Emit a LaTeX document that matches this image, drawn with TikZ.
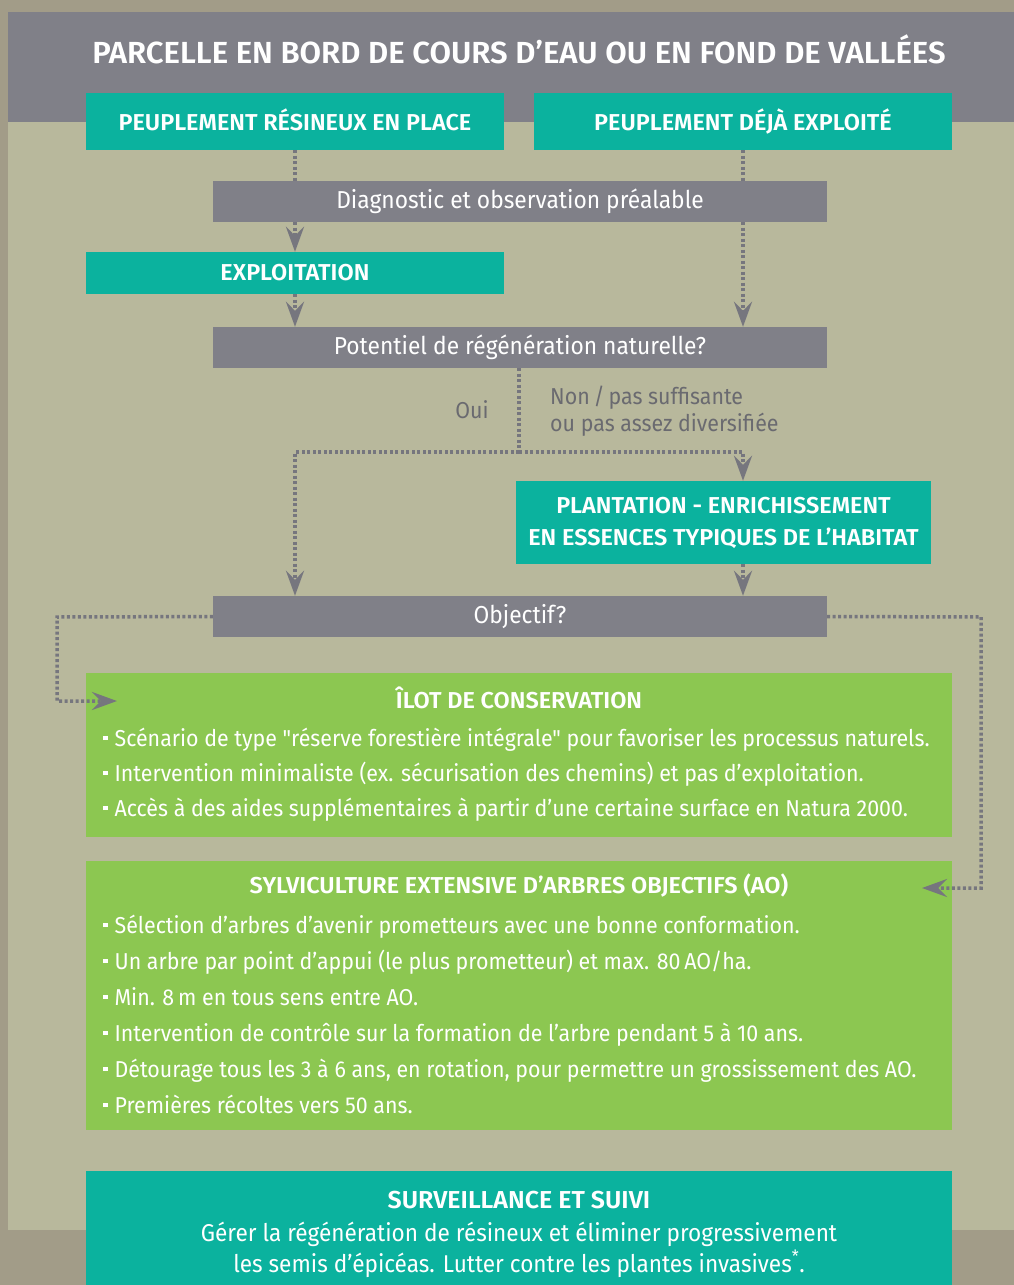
\documentclass[tikz,border=0pt]{standalone}
\usepackage{fontspec}
\setmainfont{Fira Sans}[FakeStretch=0.93, Ligatures=TeXOff]
\newfontfamily\hdfont{Fira Sans SemiBold}[FakeStretch=1.02]
\usetikzlibrary{arrows.meta}
\definecolor{outerbg}{HTML}{A29C88}
\definecolor{panel}{HTML}{B8B89C}
\definecolor{hdr}{HTML}{808088}
\definecolor{tealc}{HTML}{0BB29E}
\definecolor{leaf}{HTML}{8CC751}
\definecolor{conn}{HTML}{76767E}
\definecolor{lbl}{HTML}{6A6A70}
\begin{document}
\begin{tikzpicture}[x=1pt,y=-1pt,
  box/.style={rectangle, draw=none, inner sep=0pt, text=white, align=center},
  tealbox/.style={box, fill=tealc},
  graybox/.style={box, fill=hdr},
  greenbox/.style={box, fill=leaf},
  hfont/.style={font=\hdfont\fontsize{23}{27}\selectfont},
  bfont/.style={font=\fontsize{24.5}{29}\selectfont},
  lfont/.style={font=\fontsize{24.3}{29}\selectfont},
  bul/.style={anchor=base west, inner sep=0pt, text=white, font=\fontsize{23}{27}\selectfont},
  lab/.style={inner sep=0pt, text=lbl, font=\fontsize{23}{27}\selectfont},
  dotline/.style={draw=conn, line width=3.5pt, dash pattern=on 3pt off 2.5pt},
  dotarrow/.style={dotline, -{Stealth[length=25pt,width=18pt,inset=9pt]}}
]
\newcommand{\bsq}{\raisebox{0.26em}{\rule{4.5pt}{4.5pt}}\hspace{0.3em}}
\fill[outerbg] (0,0) rectangle (1014,1285);
\useasboundingbox (0,0) rectangle (1014,1285);
\fill[panel] (8,12) rectangle (1014,1230);
\fill[hdr] (8,12) rectangle (1014,122);

\node[inner sep=0pt, text=white, font=\hdfont\fontsize{30.5}{36}\selectfont] (title) at (519,49) {PARCELLE EN BORD DE COURS D’EAU OU EN FOND DE VALLÉES};

\node[tealbox, hfont, minimum width=418pt, minimum height=57pt, text depth=3pt] (a) at (295,121.5) {PEUPLEMENT RÉSINEUX EN PLACE};
\node[tealbox, hfont, minimum width=418pt, minimum height=57pt, text depth=3pt] (b) at (743,121.5) {PEUPLEMENT DÉJÀ EXPLOITÉ};
\node[graybox, bfont, minimum width=614pt, minimum height=41pt] (diag) at (520,201.5) {Diagnostic et observation préalable};
\node[tealbox, hfont, minimum width=418pt, minimum height=42pt] (expl) at (295,273) {EXPLOITATION};
\node[graybox, bfont, minimum width=614pt, minimum height=41pt] (pot) at (520,347.5) {Potentiel de régénération naturelle?};

\node[lab] (oui) at (472,410) {Oui};
\node[lab, anchor=west, align=left] (non) at (550,411) {Non\,/\,pas suffisante\\ou pas assez diversifiée};

\node[tealbox, minimum width=415pt, minimum height=83pt, font=\hdfont\fontsize{23}{32}\selectfont] (plant) at (723.5,522.5) {PLANTATION - ENRICHISSEMENT\\EN ESSENCES TYPIQUES DE L’HABITAT};
\node[graybox, bfont, minimum width=614pt, minimum height=41pt] (obj) at (520,616.5) {Objectif?};

\node[greenbox, minimum width=866pt, minimum height=164pt] (ilot) at (519,755) {};
\node[inner sep=0pt, text=white, hfont] (ilott) at (519,698) {ÎLOT DE CONSERVATION};
\node[bul] (i1) at (103,746) {\bsq Scénario de type "réserve forestière intégrale" pour favoriser les processus naturels.};
\node[bul] (i2) at (103,781) {\bsq Intervention minimaliste (ex. sécurisation des chemins) et pas d’exploitation.};
\node[bul] (i3) at (103,816) {\bsq Accès à des aides supplémentaires à partir d’une certaine surface en Natura 2000.};

\node[greenbox, minimum width=866pt, minimum height=269pt] (sylv) at (519,995.5) {};
\node[inner sep=0pt, text=white, hfont] (sylvt) at (519,886) {SYLVICULTURE EXTENSIVE D’ARBRES OBJECTIFS (AO)};
\node[bul] (s1) at (103,933) {\bsq Sélection d’arbres d’avenir prometteurs avec une bonne conformation.};
\node[bul] (s2) at (103,969) {\bsq Un arbre par point d’appui (le plus prometteur) et max. 80\,AO/ha.};
\node[bul] (s3) at (103,1005) {\bsq Min. 8\,m en tous sens entre AO.};
\node[bul] (s4) at (103,1041) {\bsq Intervention de contrôle sur la formation de l’arbre pendant 5 à 10 ans.};
\node[bul] (s5) at (103,1077) {\bsq Détourage tous les 3 à 6 ans, en rotation, pour permettre un grossissement des AO.};
\node[bul] (s6) at (103,1113) {\bsq Premières récoltes vers 50 ans.};

\node[tealbox, minimum width=866pt, minimum height=119pt] (surv) at (519,1230.5) {};
\node[inner sep=0pt, text=white, font=\hdfont\fontsize{24.5}{29}\selectfont] (survt) at (519,1200) {SURVEILLANCE ET SUIVI};
\node[inner sep=0pt, text=white, lfont, anchor=base] (surv1) at (519,1241) {Gérer la régénération de résineux et éliminer progressivement};
\node[inner sep=0pt, text=white, lfont, anchor=base] (surv2) at (519,1272) {les semis d’épicéas. Lutter contre les plantes invasives\textsuperscript{*}.};

% connectors
\coordinate (jL) at (295,452);
\coordinate (jR) at (743,452);
\coordinate (jM) at (519,452);
\coordinate (lA) at (57,617);
\coordinate (lB) at (57,701);
\coordinate (lT) at (117,701);
\coordinate (rA) at (981,617);
\coordinate (rB) at (981,888);
\coordinate (rT) at (922,888);

\draw[dotline] (a.south) -- (a.south |- diag.north);
\draw[dotline] (b.south) -- (b.south |- diag.north);
\draw[dotarrow] (expl.north |- diag.south) -- (expl.north);
\draw[dotarrow] (expl.south) -- (expl.south |- pot.north);
\draw[dotarrow] (b.south |- diag.south) -- (b.south |- pot.north);
\draw[dotline] (jM |- pot.south) -- (jM);
\draw[dotarrow] (jM) -- (jL) -- (jL |- obj.north);
\draw[dotarrow] (jM) -- (jR) -- (jR |- plant.north);
\draw[dotarrow] (jR |- plant.south) -- (jR |- obj.north);
\draw[dotarrow] (obj.west) -- (lA) -- (lB) -- (lT);
\draw[dotarrow] (obj.east) -- (rA) -- (rB) -- (rT);
\end{tikzpicture}
\end{document}
